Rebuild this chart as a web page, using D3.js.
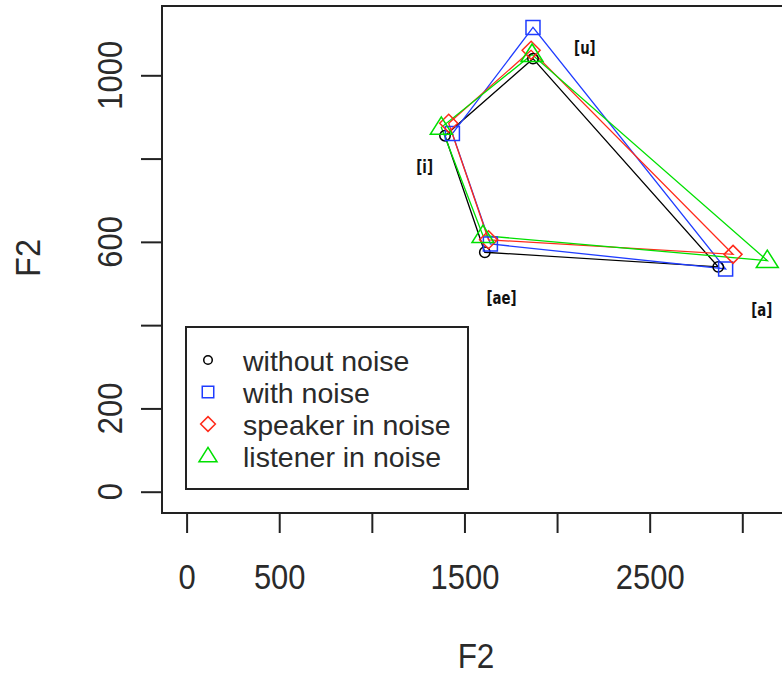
<!DOCTYPE html>
<html><head><meta charset="utf-8">
<script src="https://cdn.jsdelivr.net/npm/d3@7"></script>
<style>body{margin:0;background:#fff} svg{display:block}</style>
</head><body><svg id="c" width="782" height="674"></svg>
<script>
// ---- data ----
const vowels = ["[u]", "[i]", "[ae]", "[a]"];
const seriesNames = ["without noise", "with noise", "speaker in noise", "listener in noise"];
const withoutNoiseX = [1870, 1395, 1610, 2870];
const withoutNoiseY = [1040, 855, 575, 540];
const withNoiseX = [1870, 1435, 1640, 2910];
const withNoiseY = [1115, 860, 595, 535];
const speakerInNoiseX = [1860, 1415, 1630, 2950];
const speakerInNoiseY = [1060, 885, 605, 570];
const listenerInNoiseX = [1865, 1375, 1600, 3135];
const listenerInNoiseY = [1050, 875, 615, 555];
const vowelLabelX = [2150, 1285, 1700, 3105];
const vowelLabelY = [1066, 780, 466, 437];
const xTickValues = [0, 500, 1000, 1500, 2000, 2500, 3000];
const xTickLabels = ["0", "500", "", "1500", "", "2500", ""];
const yTickValues = [0, 200, 400, 600, 800, 1000];
const yTickLabels = ["0", "200", "", "600", "", "1000"];
const xTitle = "F2", yTitle = "F2";

// ---- styling ----
const colors = ["#000000", "#1f3cff", "#ff2a1a", "#00e000"];
const shapes = ["circle", "square", "diamond", "triangle"];
const font = "'Liberation Sans', Arial, sans-serif";

const svg = d3.select("#c");
svg.append("rect").attr("width", 782).attr("height", 674).attr("fill", "#fff");

const box = {left: 162, top: 6, bottom: 513, right: 795};
const x = d3.scaleLinear().domain([0, 3000]).range([186.6, 742.3]);
const y = d3.scaleLinear().domain([0, 1000]).range([491.7, 75.3]);

const series = [
  {xs: withoutNoiseX, ys: withoutNoiseY},
  {xs: withNoiseX, ys: withNoiseY},
  {xs: speakerInNoiseX, ys: speakerInNoiseY},
  {xs: listenerInNoiseX, ys: listenerInNoiseY}
].map((s, i) => ({name: seriesNames[i], color: colors[i], shape: shapes[i],
  pts: s.xs.map((v, j) => [v, s.ys[j]])}));

function symbolPath(shape, s) {
  if (shape === "circle") { const r = 5.2 * s; return `M${r},0A${r},${r} 0 1,1 ${-r},0A${r},${r} 0 1,1 ${r},0Z`; }
  if (shape === "square") { const h = 7 * s; return `M${-h},${-h}H${h}V${h}H${-h}Z`; }
  if (shape === "diamond") { const h = 9 * s; return `M0,${-h}L${h},0L0,${h}L${-h},0Z`; }
  const w = 11 * s, t = 10.5 * s, b = 7 * s;
  return `M0,${-t}L${w},${b}L${-w},${b}Z`;
}

// series lines
const line = d3.line().x(d => x(d[0])).y(d => y(d[1])).curve(d3.curveLinearClosed);
const plot = svg.append("g");
series.forEach(s => {
  plot.append("path").attr("d", line(s.pts)).attr("fill", "none")
    .attr("stroke", s.color).attr("stroke-width", 1.3);
});
series.forEach(s => {
  plot.selectAll(null).data(s.pts).enter().append("path")
    .attr("transform", d => `translate(${x(d[0])},${y(d[1])})`)
    .attr("d", symbolPath(s.shape, 1)).attr("fill", "none")
    .attr("stroke", s.color).attr("stroke-width", 1.5);
});

// vowel labels
svg.selectAll(".vl").data(vowels).enter().append("text")
  .attr("transform", (d, i) => `translate(${x(vowelLabelX[i])},${y(vowelLabelY[i])}) scale(0.82,1)`)
  .attr("text-anchor", "middle").attr("dominant-baseline", "central")
  .attr("font-family", "'DejaVu Sans Condensed', 'DejaVu Sans', sans-serif")
  .attr("font-weight", "bold").attr("font-size", 18).attr("fill", "#111")
  .text(d => d);

// box
svg.append("path")
  .attr("d", `M${box.right},${box.top}H${box.left}V${box.bottom}H${box.right}`)
  .attr("fill", "none").attr("stroke", "#222").attr("stroke-width", 2);

// x axis
const xAxis = svg.append("g").attr("transform", `translate(0,${box.bottom})`)
  .call(d3.axisBottom(x).tickValues(xTickValues).tickFormat((d, i) => xTickLabels[i])
    .tickSize(20).tickPadding(30));
xAxis.select(".domain").remove();
xAxis.selectAll("line").attr("stroke", "#222").attr("stroke-width", 2);
xAxis.selectAll("text").attr("font-family", font).attr("font-size", 36)
  .attr("fill", "#2a2a2a").attr("transform", "scale(0.86,1)");

// y axis
const yAxis = svg.append("g").attr("transform", `translate(${box.left},0)`)
  .call(d3.axisLeft(y).tickValues(yTickValues).tickFormat(() => "").tickSize(21));
yAxis.select(".domain").remove();
yAxis.selectAll("line").attr("stroke", "#222").attr("stroke-width", 2);
svg.selectAll(".yl").data(yTickValues).enter().append("text")
  .attr("transform", d => `translate(122,${y(d)}) rotate(-90) scale(0.86,1)`)
  .attr("text-anchor", "middle").attr("font-family", font).attr("font-size", 36)
  .attr("fill", "#2a2a2a").text((d, i) => yTickLabels[i]);

// axis titles
svg.append("text").attr("transform", "translate(476,668) scale(0.9,1)")
  .attr("text-anchor", "middle").attr("font-family", font).attr("font-size", 35)
  .attr("fill", "#2a2a2a").text(xTitle);
svg.append("text").attr("transform", "translate(40,258) rotate(-90) scale(0.9,1)")
  .attr("text-anchor", "middle").attr("font-family", font).attr("font-size", 36)
  .attr("fill", "#2a2a2a").text(yTitle);

// legend
const lg = svg.append("g");
lg.append("rect").attr("x", 186).attr("y", 327).attr("width", 282).attr("height", 162)
  .attr("fill", "#fff").attr("stroke", "#222").attr("stroke-width", 2);
const rowY = [360, 392, 424, 456];
series.forEach((s, i) => {
  lg.append("path").attr("transform", `translate(208,${rowY[i]})`)
    .attr("d", symbolPath(s.shape, 0.82)).attr("fill", "none")
    .attr("stroke", s.color).attr("stroke-width", 1.5);
  lg.append("text").attr("x", 243).attr("y", rowY[i] + 11)
    .attr("font-family", font).attr("font-size", 28.5).attr("fill", "#2a2a2a").text(s.name);
});
</script></body></html>
